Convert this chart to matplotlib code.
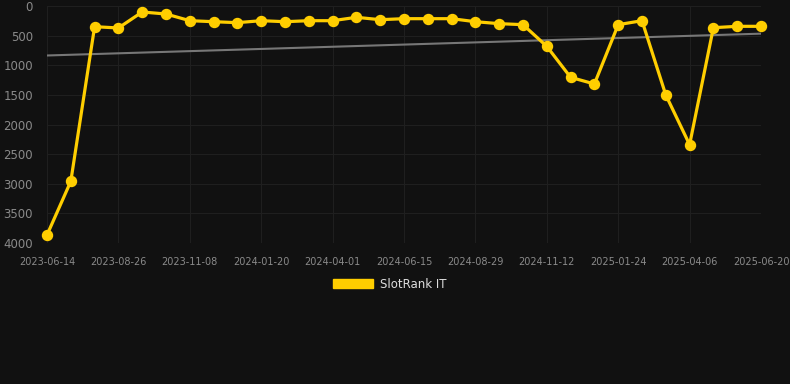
import matplotlib
matplotlib.use("Agg")
import matplotlib.pyplot as plt
import numpy as np
from matplotlib.patches import Patch

tick_labels = ["2023-06-14", "2023-08-26", "2023-11-08", "2024-01-20", "2024-04-01",
               "2024-06-15", "2024-08-29", "2024-11-12", "2025-01-24", "2025-04-06",
               "2025-06-20"]
ranks = [3865, 2959, 349, 371, 101, 135, 248, 265, 281, 248, 265, 248, 248, 191, 231,
         214, 214, 214, 265, 298, 315, 681, 1204, 1316, 315, 248, 1502, 2340, 366, 343, 343]
series_name = "SlotRank IT"

BG = "#111111"
YELLOW = "#FFCE00"

W, H = 790, 384
fig = plt.figure(figsize=(W / 100, H / 100), dpi=100, facecolor=BG)
ax = fig.add_axes([47 / W, 1 - 243 / H, (761 - 47) / W, (243 - 6) / H], facecolor=BG)

x = np.arange(len(ranks))
# trend line (linear fit)
coef = np.polyfit(x, ranks, 1)
ax.plot(x, np.polyval(coef, x), color="#777777", lw=1.5, zorder=2, solid_capstyle="round")

ax.plot(x, ranks, color=YELLOW, lw=2.3, marker="o", ms=7.2, mfc=YELLOW, mec=YELLOW,
        zorder=3, label=series_name, clip_on=False)

ax.set_xlim(0, len(ranks) - 1)
ax.set_ylim(4000, 0)
ax.set_yticks(np.arange(0, 4001, 500))
ax.set_xticks(np.arange(0, len(ranks), 3))
ax.set_xticklabels(tick_labels)
ax.grid(True, color="#1f1f1f", lw=0.8)
ax.set_axisbelow(True)
for s in ax.spines.values():
    s.set_visible(False)
ax.tick_params(axis="y", length=0, pad=10, labelsize=8.5, labelcolor="#8a8a8a")
ax.tick_params(axis="x", length=0, pad=10, labelsize=7, labelcolor="#8a8a8a")

# legend
h = [Patch(facecolor=YELLOW, edgecolor=YELLOW)]
leg = fig.legend(h, [series_name], loc="center", bbox_to_anchor=(390 / W, 1 - 284 / H),
                 frameon=False, handlelength=3.4, handleheight=0.9, fontsize=8.5,
                 labelcolor="#dddddd", handletextpad=0.6)

fig.savefig("out.png", dpi=100, facecolor=BG)
